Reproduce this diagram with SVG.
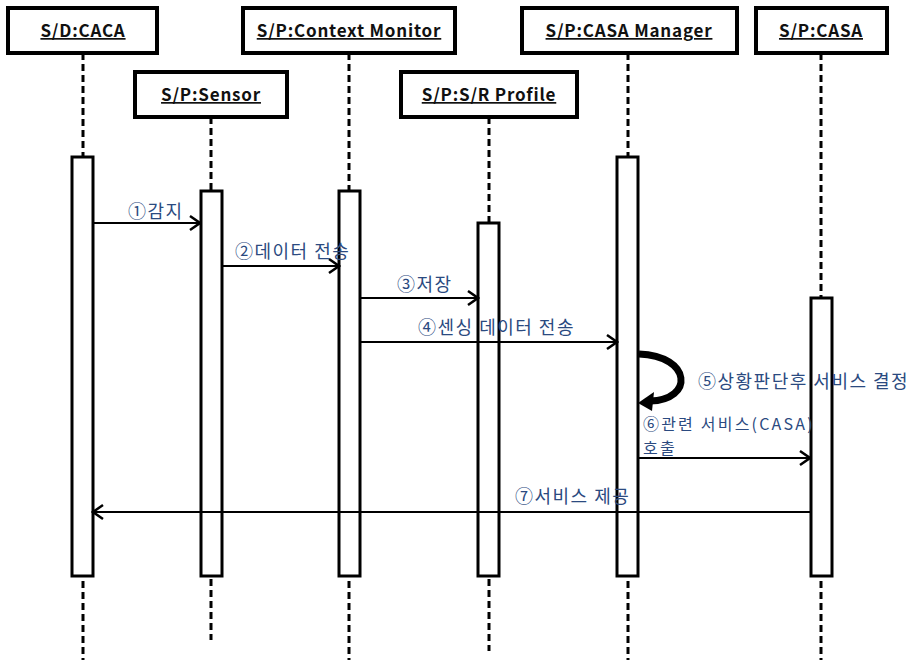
<svg xmlns="http://www.w3.org/2000/svg" width="912" height="660" viewBox="0 0 912 660">
<defs>
<style>
.hdr{fill:#fff;stroke:#000;stroke-width:4}
.ht{font-family:"Noto Sans CJK KR","Noto Sans",sans-serif;font-size:17px;font-weight:bold;letter-spacing:0.8px;fill:#111;text-anchor:middle;text-decoration:underline}
.life{stroke:#000;stroke-width:3;stroke-dasharray:7 4;fill:none}
.act{fill:#fff;stroke:#000;stroke-width:3}
.msg{stroke:#000;stroke-width:2;fill:none;marker-end:url(#arr)}
.lbl{font-family:"Noto Sans CJK KR","Noto Sans",sans-serif;font-size:18px;letter-spacing:1.5px;fill:#2b4a80}
.sm{font-size:16px;letter-spacing:2.2px}
</style>
<marker id="arr" markerUnits="userSpaceOnUse" markerWidth="14" markerHeight="18" refX="12" refY="9" orient="auto">
<path d="M2,2 L12,9 L2,16" fill="none" stroke="#000" stroke-width="2.5"/>
</marker>
</defs>
<rect width="912" height="660" fill="#fff"/>

<g id="lifelines">
<line class="life" x1="83" y1="53" x2="83" y2="660"/>
<line class="life" x1="211" y1="117" x2="211" y2="640"/>
<line class="life" x1="349" y1="53" x2="349" y2="660"/>
<line class="life" x1="489" y1="117" x2="489" y2="651"/>
<line class="life" x1="628" y1="53" x2="628" y2="660"/>
<line class="life" x1="821" y1="53" x2="821" y2="660"/>
</g>

<g id="caca">
<rect class="hdr" x="8" y="8" width="149" height="45"/>
<text class="ht" x="83" y="37">S/D:CACA</text>
<rect class="act" x="72" y="157" width="21" height="419"/>
</g>
<g id="sensor">
<rect class="hdr" x="135" y="72" width="152" height="45"/>
<text class="ht" x="211" y="101">S/P:Sensor</text>
<rect class="act" x="201" y="191" width="21" height="385"/>
</g>
<g id="context-monitor">
<rect class="hdr" x="243" y="8" width="212" height="45"/>
<text class="ht" x="349" y="37">S/P:Context Monitor</text>
<rect class="act" x="339" y="191" width="21" height="385"/>
</g>
<g id="sr-profile">
<rect class="hdr" x="401" y="72" width="176" height="45"/>
<text class="ht" x="489" y="101">S/P:S/R Profile</text>
<rect class="act" x="478" y="223" width="21" height="353"/>
</g>
<g id="casa-manager">
<rect class="hdr" x="522" y="8" width="215" height="45"/>
<text class="ht" x="629" y="37">S/P:CASA Manager</text>
<rect class="act" x="617" y="157" width="21" height="419"/>
</g>
<g id="casa">
<rect class="hdr" x="756" y="8" width="131" height="45"/>
<text class="ht" x="821" y="37">S/P:CASA</text>
<rect class="act" x="811" y="298" width="21" height="278"/>
</g>

<g id="connectors">
<line class="msg" x1="93" y1="223" x2="200" y2="223"/>
<line class="msg" x1="222" y1="266" x2="339" y2="266"/>
<line class="msg" x1="360" y1="298" x2="478" y2="298"/>
<line class="msg" x1="360" y1="342" x2="617" y2="342"/>
<path d="M639,354 C692,356 694,400 650,401" fill="none" stroke="#000" stroke-width="7"/>
<path d="M638,403 L654,392 L652,411 Z" fill="#000"/>
<line class="msg" x1="638" y1="458" x2="810" y2="458"/>
<line class="msg" x1="811" y1="512" x2="93" y2="512"/>
</g>

<g id="labels">
<text class="lbl" x="128" y="218">①감지</text>
<text class="lbl" x="235" y="258">②데이터 전송</text>
<text class="lbl" x="397" y="291">③저장</text>
<text class="lbl" x="418" y="334">④센싱 데이터 전송</text>
<text class="lbl" x="698" y="388">⑤상황판단후 서비스 결정</text>
<text class="lbl sm" x="643" y="430">⑥관련 서비스(CASA)</text>
<text class="lbl sm" x="643" y="454">호출</text>
<text class="lbl" x="515" y="503">⑦서비스 제공</text>
</g>
</svg>
